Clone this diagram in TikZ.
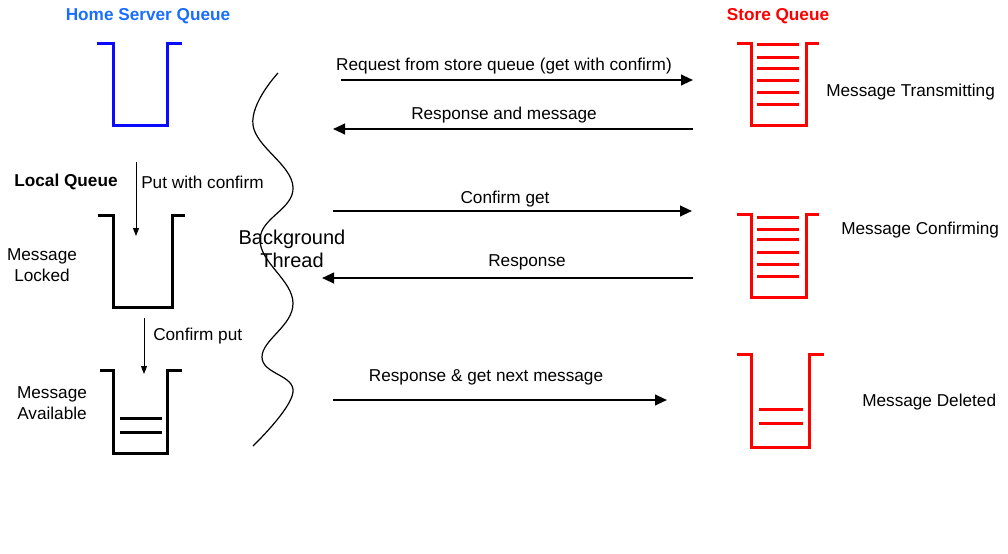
\documentclass[tikz,border=0pt]{standalone}
\usepackage{fontspec}
\setmainfont{Liberation Sans}
\usetikzlibrary{arrows.meta}
\definecolor{homeblue}{RGB}{26,110,255}
\definecolor{qblue}{RGB}{10,10,255}
\definecolor{qred}{RGB}{255,0,0}
\begin{document}
\begin{tikzpicture}[x=0.75pt,y=-0.75pt,
  lbl/.style={font=\fontsize{12.9}{15.5}\selectfont,inner sep=0pt,align=center,yshift=-1.5pt},
  ttl/.style={font=\fontsize{12.9}{15.5}\selectfont\bfseries,inner sep=0pt,yshift=-1.2pt},
  qline/.style={line width=2.25pt,line join=miter},
  fill line/.style={line width=2.25pt},
  bigarrow/.style={line width=1.5pt,-{Triangle[length=9pt,width=8pt]}},
  smallarrow/.style={line width=0.75pt,-{Triangle[length=6pt,width=4.5pt]}}]
\useasboundingbox (0,0) rectangle (1008,554);

% titles
\node[ttl,text=homeblue] (thome) at (148,15) {Home Server Queue};
\node[ttl,text=qred] (tstore) at (778,15) {Store Queue};

% home server queue
\draw[qline,qblue] (97,43) -- (113,43) -- (113,125) -- (167,125) -- (167,43) -- (182,43);

% local queue labels
\node[ttl,anchor=center] (local) at (66,180) {Local Queue};
\node[lbl,anchor=west] (pwc) at (141,180) {Put with confirm};
\coordinate (p1s) at (136,162);
\coordinate (p1e) at (136,236);
\draw[smallarrow] (p1s) -- (p1e);

% message locked queue
\draw[qline,black] (98,215) -- (113,215) -- (113,307) -- (172,307) -- (172,215) -- (185,215);
\node[lbl] (mlock) at (42,263) {Message\\Locked};

% confirm put
\coordinate (p2s) at (144,318);
\coordinate (p2e) at (144,374);
\draw[smallarrow] (p2s) -- (p2e);
\node[lbl,anchor=west] (cput) at (153,334) {Confirm put};

% message available queue
\draw[qline,black] (100,370) -- (113,370) -- (113,453) -- (167,453) -- (167,370) -- (182,370);
\draw[fill line] (120,418) -- (162,418);
\draw[fill line] (120,432) -- (162,432);
\node[lbl] (mavail) at (52,401) {Message\\Available};

% wave
\draw[line width=0.9pt] plot[smooth,tension=0.7] coordinates {(278,73) (253,125) (293,187) (260,240) (293,303) (262,357) (293,392) (253,446)};
\node[font=\fontsize{15}{17.5}\selectfont,inner sep=0pt,align=center,yshift=-1.5pt] (bg) at (292,247) {Background\\Thread};

% arrows to/from store queue
\coordinate (a1s) at (341,80); \coordinate (a1e) at (693,80);
\draw[bigarrow] (a1s) -- (a1e);
\node[lbl] (l1) at (504,64) {Request from store queue (get with confirm)};

\coordinate (a2s) at (693,129); \coordinate (a2e) at (333,129);
\draw[bigarrow] (a2s) -- (a2e);
\node[lbl] (l2) at (504,113) {Response and message};

\coordinate (a3s) at (333,211); \coordinate (a3e) at (692,211);
\draw[bigarrow] (a3s) -- (a3e);
\node[lbl] (l3) at (505,197) {Confirm get};

\coordinate (a4s) at (693,278); \coordinate (a4e) at (322,278);
\draw[bigarrow] (a4s) -- (a4e);
\node[lbl] (l4) at (527,260) {Response};

\coordinate (a5s) at (333,400); \coordinate (a5e) at (667,400);
\draw[bigarrow] (a5s) -- (a5e);
\node[lbl] (l5) at (486,375) {Response \& get next message};

% store queue 1
\draw[qline,qred] (737,43) -- (751,43) -- (751,125) -- (806,125) -- (806,43) -- (819,43);
\foreach \yy in {44,57,68,80,92,104} \draw[fill line,qred] (757,\yy) -- (799,\yy);
\node[lbl,anchor=west] (mt) at (826,90) {Message Transmitting};

% store queue 2
\draw[qline,qred] (737,214) -- (751,214) -- (751,297) -- (806,297) -- (806,214) -- (819,214);
\foreach \yy in {217,229,239,252,264,276} \draw[fill line,qred] (757,\yy) -- (799,\yy);
\node[lbl,anchor=west] (mc) at (841,228) {Message Confirming};

% store queue 3
\draw[qline,qred] (737,354) -- (751,354) -- (751,447) -- (809,447) -- (809,354) -- (824,354);
\draw[fill line,qred] (759,409) -- (803,409);
\draw[fill line,qred] (759,423) -- (803,423);
\node[lbl,anchor=west] (md) at (862,400) {Message Deleted};
\end{tikzpicture}
\end{document}
